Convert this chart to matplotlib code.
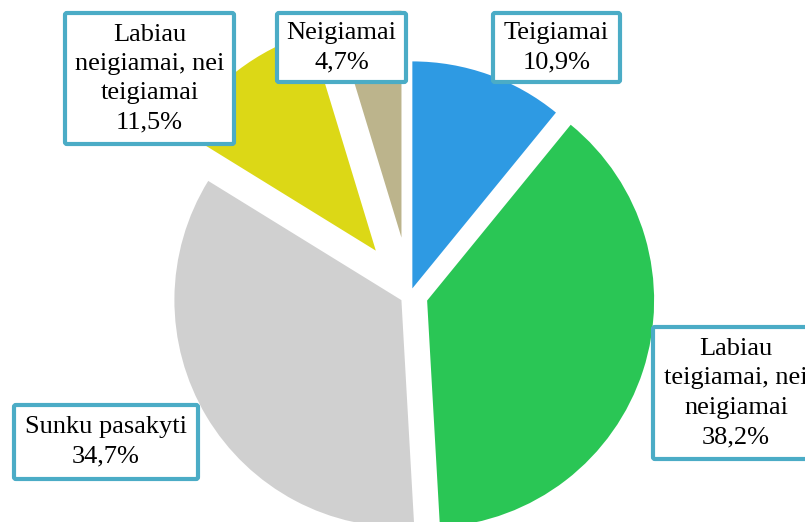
import matplotlib
matplotlib.use('Agg')
import matplotlib.pyplot as plt
from matplotlib.patches import FancyBboxPatch

# data
labels = ['Teigiamai', 'Labiau\nteigiamai, nei\nneigiamai', 'Sunku pasakyti',
          'Labiau\nneigiamai, nei\nteigiamai', 'Neigiamai']
shares = [10.9, 38.2, 34.7, 11.5, 4.7]
colors = ['#2E9AE3', '#2AC655', '#D0D0D0', '#DCD816', '#BCB48C']
explode = [7, 18, 10, 56, 58]  # offset in pixels

# label box layout (pixels, y from top): x0, y0, x1, y1
boxes = [(493, 13, 620, 82), (653, 327, 819, 459), (14, 405, 198, 479),
         (65, 13, 234, 144), (277, 13, 406, 82)]

W, H = 805, 522
fig = plt.figure(figsize=(W / 100, H / 100), dpi=100)
ax = fig.add_axes([0, 0, 1, 1])

ax.pie(shares, colors=colors, explode=explode, startangle=90, counterclock=False,
       center=(410, H - 295), radius=227, frame=True,
       wedgeprops=dict(linewidth=0))
ax.set_xlim(0, W)
ax.set_ylim(0, H)
ax.set_aspect('equal')
ax.axis('off')

for lab, val, (x0, y0, x1, y1) in zip(labels, shares, boxes):
    box = FancyBboxPatch((x0, H - y1), x1 - x0, y1 - y0,
                         boxstyle='round,pad=0,rounding_size=2',
                         facecolor='white', edgecolor='#4BACC6', linewidth=3,
                         zorder=5)
    ax.add_patch(box)
    txt = lab + '\n' + f'{val:.1f}%'.replace('.', ',')
    ax.text((x0 + x1) / 2, H - (y0 + y1) / 2, txt, ha='center', va='center',
            fontsize=19, family='Liberation Serif', linespacing=1.43,
            zorder=6)

fig.savefig('out.png', dpi=100)
